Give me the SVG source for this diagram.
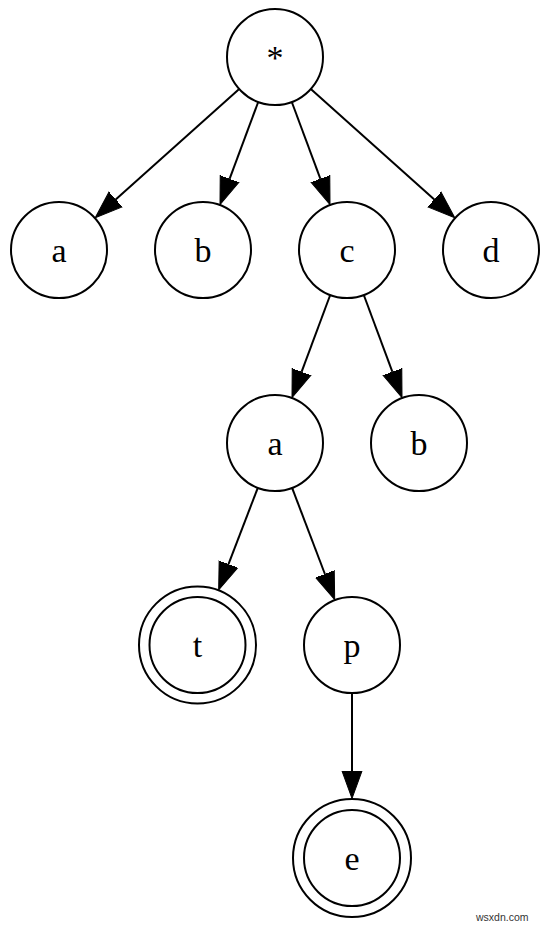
<svg xmlns="http://www.w3.org/2000/svg" width="550" height="928" viewBox="0 0 550 928">
<style>
.n circle{fill:none;stroke:#000;stroke-width:2}
.n text{font-family:"Liberation Serif","Times New Roman",serif;font-size:34px;text-anchor:middle;fill:#000}
.e line{stroke:#000;stroke-width:2;marker-end:url(#arr)}
.wm{font-family:"Liberation Sans",Arial,sans-serif;font-size:10.5px;fill:#333}
</style>
<defs>
<marker id="arr" markerUnits="userSpaceOnUse" markerWidth="30" markerHeight="24" viewBox="0 0 30 24" refX="0" refY="12" orient="auto">
<path d="M0,2 L27.5,12 L0,22 z" fill="#000" stroke="#000" stroke-width="1"/>
</marker>
</defs>
<rect width="550" height="928" fill="#fff"/>
<g id="edges" class="e">
<line x1="239.2" y1="89" x2="115.7" y2="199.4"/>
<line x1="258.2" y1="102" x2="229.6" y2="178.8"/>
<line x1="291.8" y1="102" x2="320.4" y2="178.8"/>
<line x1="310.8" y1="89" x2="434.3" y2="199.4"/>
<line x1="330.2" y1="295" x2="301.6" y2="371.8"/>
<line x1="363.8" y1="295" x2="392.4" y2="371.8"/>
<line x1="257.8" y1="487.8" x2="228.5" y2="564.2"/>
<line x1="292.1" y1="487.9" x2="324.9" y2="574"/>
<line x1="352" y1="693" x2="352" y2="771"/>
</g>
<g id="root" class="n"><circle cx="275" cy="57" r="48"/><text x="275" y="68.5">*</text></g>
<g id="a1" class="n"><circle cx="59" cy="250" r="48"/><text x="59" y="261.5">a</text></g>
<g id="b1" class="n"><circle cx="203" cy="250" r="48"/><text x="203" y="261.5">b</text></g>
<g id="c1" class="n"><circle cx="347" cy="250" r="48"/><text x="347" y="261.5">c</text></g>
<g id="d1" class="n"><circle cx="491" cy="250" r="48"/><text x="491" y="261.5">d</text></g>
<g id="a2" class="n"><circle cx="275" cy="443" r="48"/><text x="275" y="454.5">a</text></g>
<g id="b2" class="n"><circle cx="419" cy="443" r="48"/><text x="419" y="454.5">b</text></g>
<g id="t" class="n"><circle cx="197.5" cy="645" r="48"/><circle cx="197.5" cy="645" r="58.5"/><text x="197.5" y="656.5">t</text></g>
<g id="p" class="n"><circle cx="352" cy="645" r="48"/><text x="352" y="656.5">p</text></g>
<g id="e" class="n"><circle cx="352" cy="858" r="48"/><circle cx="352" cy="858" r="59"/><text x="352" y="869.5">e</text></g>
<text class="wm" x="476" y="920.5">wsxdn.com</text>
</svg>
